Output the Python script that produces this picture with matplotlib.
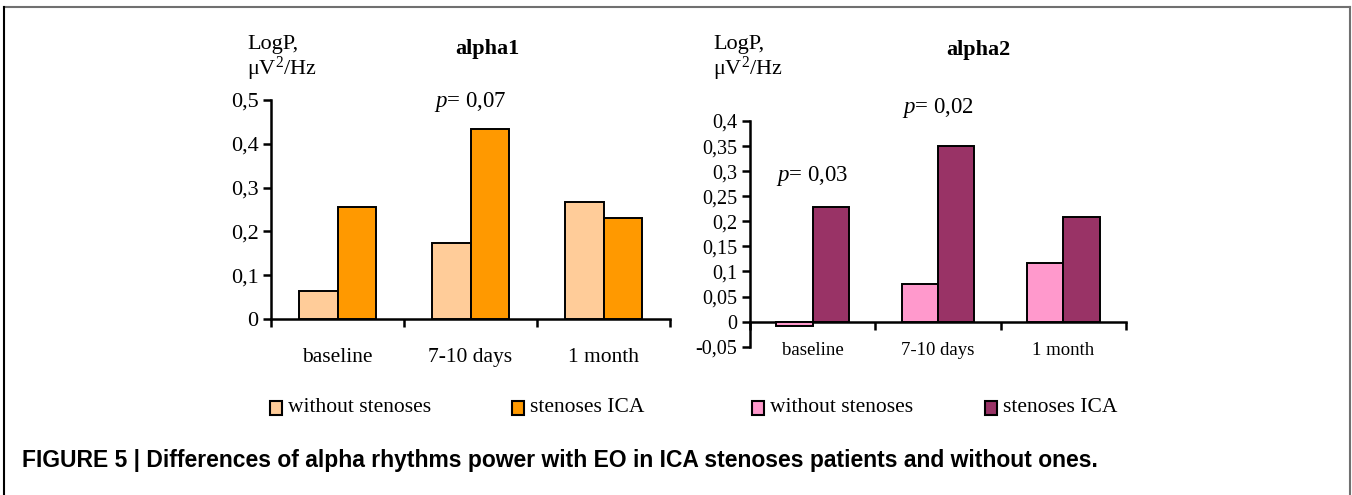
import matplotlib
matplotlib.use("Agg")
import matplotlib.pyplot as plt
import numpy as np
from matplotlib.lines import Line2D
from matplotlib.patches import Rectangle

plt.rcParams["mathtext.fontset"] = "custom"
plt.rcParams["mathtext.rm"] = "Liberation Serif"
plt.rcParams["mathtext.it"] = "Liberation Serif:italic"

categories = ["baseline", "7-10 days", "1 month"]
alpha1_without = [0.065, 0.174, 0.266]
alpha1_stenoses = [0.255, 0.433, 0.230]
alpha2_without = [-0.009, 0.0745, 0.117]
alpha2_stenoses = [0.229, 0.350, 0.209]
alpha1_ticks = [0, 0.1, 0.2, 0.3, 0.4, 0.5]
alpha2_ticks = [-0.05, 0, 0.05, 0.1, 0.15, 0.2, 0.25, 0.3, 0.35, 0.4]
alpha1_p = [("0,07", 1, 0.495)]
alpha2_p = [("0,03", 0, 0.29), ("0,02", 1, 0.426)]

legend_labels = ["without stenoses", "stenoses ICA", "without stenoses", "stenoses ICA"]
c_light_orange = "#FFCC99"
c_orange = "#FF9900"
c_pink = "#FF99CC"
c_purple = "#993366"

serif = ["Liberation Serif", "DejaVu Serif"]
W, H = 1352, 495
fig = plt.figure(figsize=(W / 100, H / 100), dpi=100)


def fmt(v):
    return ("%g" % v).replace(".", ",")


def draw_panel(ax, without, sten, ticks, ylim, fs_tick, fs_cat, cat_pad, c1, c2, zero_spine):
    if zero_spine:
        ax.spines["bottom"].set_position(("data", 0))
    x = np.arange(len(categories))
    w = 0.29
    ax.bar(x - w / 2, without, w, color=c1, edgecolor="black", linewidth=1.4, zorder=3)
    ax.bar(x + w / 2, sten, w, color=c2, edgecolor="black", linewidth=1.4, zorder=3)
    ax.set_xlim(-0.5, len(categories) - 0.5)
    ax.set_ylim(*ylim)
    ax.set_yticks(ticks)
    ax.set_yticklabels([fmt(t) for t in ticks], fontsize=fs_tick, family=serif)
    ax.set_xticks(np.arange(len(categories) + 1) - 0.5)
    ax.set_xticklabels([])
    ax.set_xticks(x, minor=True)
    ax.set_xticklabels(categories, minor=True, fontsize=fs_cat, family=serif)
    ax.tick_params(axis="x", which="minor", length=0, pad=cat_pad)
    ax.tick_params(axis="x", which="major", direction="out", length=6, width=1.8)
    ax.tick_params(axis="y", direction="out", length=6, width=1.8, pad=3)
    for s in ["top", "right"]:
        ax.spines[s].set_visible(False)
    for s in ["left", "bottom"]:
        ax.spines[s].set_linewidth(1.8)
    ax.patch.set_alpha(0)


ax1 = fig.add_axes([271 / W, 1 - 319 / H, 399 / W, 219 / H])
draw_panel(ax1, alpha1_without, alpha1_stenoses, alpha1_ticks, (0, 0.5), 16, 15.5, 21,
           c_light_orange, c_orange, False)

ax2 = fig.add_axes([750 / W, 1 - 346.7 / H, 376 / W, 225.7 / H])
draw_panel(ax2, alpha2_without, alpha2_stenoses, alpha2_ticks, (-0.05, 0.4), 14.5, 13.5, 15,
           c_pink, c_purple, True)

for ax, plist in [(ax1, alpha1_p), (ax2, alpha2_p)]:
    for val, xi, yv in plist:
        ax.text(xi, yv, r"$\mathit{p}$" + "= " + val, ha="center", va="center",
                fontsize=16.5, family=serif)

# titles and units
fig.text(487 / W, 1 - 49 / H, "alpha1", ha="center", va="center", fontsize=16,
         weight="bold", family=serif)
fig.text(978 / W, 1 - 50 / H, "alpha2", ha="center", va="center", fontsize=16,
         weight="bold", family=serif)
for xl in [247, 713]:
    fig.text(xl / W, 1 - 45 / H, "LogP,", ha="left", va="center", fontsize=16, family=serif)
    fig.text(xl / W, 1 - 69 / H, "μV$^2$/Hz", ha="left", va="center", fontsize=16,
             family=serif)

# legend
leg_items = [(270, c_light_orange), (512, c_orange), (752, c_pink), (985, c_purple)]
for (xs, col), lab in zip(leg_items, legend_labels):
    fig.patches.append(Rectangle((xs / W, 1 - 415 / H), 12 / W, 14 / H, transform=fig.transFigure,
                                 facecolor=col, edgecolor="black", linewidth=1.5))
    fig.text((xs + 18) / W, 1 - 408 / H, lab, ha="left", va="center", fontsize=15.5, family=serif)

# caption
fig.text(22 / W, 1 - 461 / H,
         "FIGURE 5 | Differences of alpha rhythms power with EO in ICA stenoses patients and without ones.",
         ha="left", va="center", fontsize=16.5, weight="bold", family=["Liberation Sans", "DejaVu Sans"])

# frame
fig.lines.append(Line2D([4 / W, 1350 / W], [1 - 7 / H, 1 - 7 / H], transform=fig.transFigure,
                        color="#707070", linewidth=1.5))
fig.lines.append(Line2D([4 / W, 4 / W], [0, 1 - 7 / H], transform=fig.transFigure,
                        color="black", linewidth=1.5))
fig.lines.append(Line2D([1350 / W, 1350 / W], [0, 1 - 7 / H], transform=fig.transFigure,
                        color="#707070", linewidth=1.5))

fig.savefig("out.png", dpi=100)
